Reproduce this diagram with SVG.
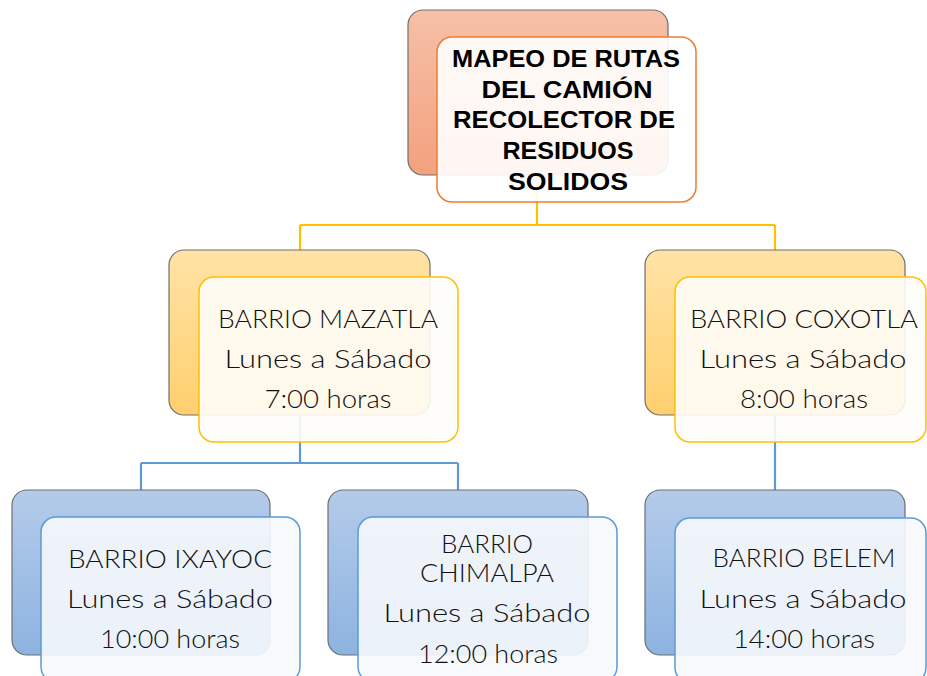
<svg xmlns="http://www.w3.org/2000/svg" width="927" height="676" viewBox="0 0 927 676">
<defs>
<linearGradient id="gO" x1="0" y1="0" x2="0" y2="1"><stop offset="0" stop-color="#F6C0A8"/><stop offset="1" stop-color="#F3A17E"/></linearGradient>
<linearGradient id="gY" x1="0" y1="0" x2="0" y2="1"><stop offset="0" stop-color="#FFE3A6"/><stop offset="1" stop-color="#FFCF6E"/></linearGradient>
<linearGradient id="gB" x1="0" y1="0" x2="0" y2="1"><stop offset="0" stop-color="#B4CBEA"/><stop offset="1" stop-color="#8DB3E0"/></linearGradient>
</defs>
<style>
.back{stroke:#6E6E6E;stroke-width:1.2}
.fo{fill:#FFFFFF;fill-opacity:0.9;stroke:#ED7D31;stroke-width:1.5}
.fy{fill:#FFFDF8;fill-opacity:0.9;stroke:#FFC000;stroke-width:1.5}
.fb{fill:#F6F8FC;fill-opacity:0.9;stroke:#5B9BD5;stroke-width:1.5}
.t{font-family:Lato,"Liberation Sans",sans-serif;font-weight:300;font-size:25px;fill:#111;text-anchor:middle}
.h{font-family:"Liberation Sans",Arial,sans-serif;font-weight:bold;font-size:24px;fill:#000;text-anchor:middle}
.cy{fill:none;stroke:#FFC000;stroke-width:2.2}
.cb{fill:none;stroke:#5B9BD5;stroke-width:2.2}
</style>
<g id="connectors">
<path class="cy" d="M537,175 V225 M300,225 H775 M300,225 V250 M775,225 V250"/>
<path class="cb" d="M300,415 V463 M141,463 H458 M141,463 V490 M458,463 V490 M775,415 V490"/>
</g>
<g id="node-root">
<rect class="back" x="408" y="10" width="260" height="165" rx="15" fill="url(#gO)"/>
<rect class="fo" x="437" y="37" width="259" height="165" rx="15"/>
<text class="h" x="566" y="67" textLength="228" lengthAdjust="spacingAndGlyphs">MAPEO DE RUTAS</text>
<text class="h" x="567" y="98" textLength="171" lengthAdjust="spacingAndGlyphs">DEL CAMIÓN</text>
<text class="h" x="564" y="128" textLength="222" lengthAdjust="spacingAndGlyphs">RECOLECTOR DE</text>
<text class="h" x="568" y="159" textLength="131" lengthAdjust="spacingAndGlyphs">RESIDUOS</text>
<text class="h" x="568" y="190" textLength="120" lengthAdjust="spacingAndGlyphs">SOLIDOS</text>
</g>
<g id="node-mazatla">
<rect class="back" x="169" y="250" width="261" height="165" rx="15" fill="url(#gY)"/>
<rect class="fy" x="199" y="277" width="259" height="165" rx="15"/>
<text class="t" x="328" y="328" textLength="220" lengthAdjust="spacingAndGlyphs">BARRIO MAZATLA</text>
<text class="t" x="328" y="368" textLength="207" lengthAdjust="spacingAndGlyphs">Lunes a Sábado</text>
<text class="t" x="328" y="408" textLength="127" lengthAdjust="spacingAndGlyphs">7:00 horas</text>
</g>
<g id="node-coxotla">
<rect class="back" x="645" y="250" width="260" height="165" rx="15" fill="url(#gY)"/>
<rect class="fy" x="675" y="277" width="251" height="165" rx="15"/>
<text class="t" x="804" y="328" textLength="228" lengthAdjust="spacingAndGlyphs">BARRIO COXOTLA</text>
<text class="t" x="803" y="368" textLength="207" lengthAdjust="spacingAndGlyphs">Lunes a Sábado</text>
<text class="t" x="804" y="408" textLength="128" lengthAdjust="spacingAndGlyphs">8:00 horas</text>
</g>
<g id="node-ixayoc">
<rect class="back" x="12" y="490" width="258" height="165" rx="15" fill="url(#gB)"/>
<rect class="fb" x="41" y="517" width="259" height="165" rx="15"/>
<text class="t" x="170" y="568" textLength="204" lengthAdjust="spacingAndGlyphs">BARRIO IXAYOC</text>
<text class="t" x="170" y="608" textLength="206" lengthAdjust="spacingAndGlyphs">Lunes a Sábado</text>
<text class="t" x="170" y="648" textLength="140" lengthAdjust="spacingAndGlyphs">10:00 horas</text>
</g>
<g id="node-chimalpa">
<rect class="back" x="328" y="490" width="260" height="165" rx="15" fill="url(#gB)"/>
<rect class="fb" x="358" y="517" width="259" height="165" rx="15"/>
<text class="t" x="487" y="553" textLength="92" lengthAdjust="spacingAndGlyphs">BARRIO</text>
<text class="t" x="487" y="582" textLength="134" lengthAdjust="spacingAndGlyphs">CHIMALPA</text>
<text class="t" x="487" y="622" textLength="207" lengthAdjust="spacingAndGlyphs">Lunes a Sábado</text>
<text class="t" x="488" y="663" textLength="140" lengthAdjust="spacingAndGlyphs">12:00 horas</text>
</g>
<g id="node-belem">
<rect class="back" x="645" y="490" width="260" height="165" rx="15" fill="url(#gB)"/>
<rect class="fb" x="675" y="518" width="251" height="165" rx="15"/>
<text class="t" x="804" y="567" textLength="183" lengthAdjust="spacingAndGlyphs">BARRIO BELEM</text>
<text class="t" x="803" y="608" textLength="207" lengthAdjust="spacingAndGlyphs">Lunes a Sábado</text>
<text class="t" x="804" y="648" textLength="142" lengthAdjust="spacingAndGlyphs">14:00 horas</text>
</g>
</svg>
